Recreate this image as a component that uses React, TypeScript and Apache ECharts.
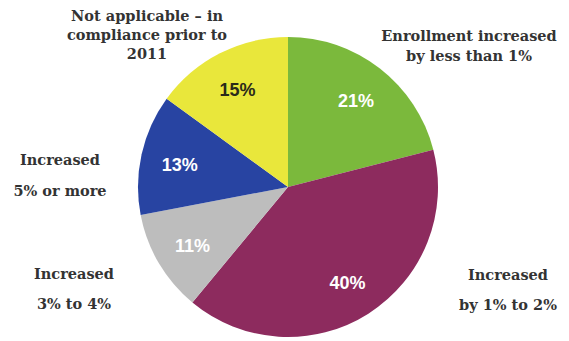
import React, { useEffect, useRef } from "react";
import * as echarts from "echarts";

const categories = [
  "Enrollment increased\nby less than 1%",
  "Increased\nby 1% to 2%",
  "Increased\n3% to 4%",
  "Increased\n5% or more",
  "Not applicable – in\ncompliance prior to\n2011",
];
const values = [21, 40, 11, 13, 15];
const colors = ["#7bb93c", "#8d2b5e", "#bdbdbd", "#2844a2", "#e9e73b"];
const innerLabelColors = ["#ffffff", "#ffffff", "#ffffff", "#ffffff", "#2b2b1a"];
const outerLabelPos = [
  [469, 45],
  [508, 289],
  [74, 288],
  [60, 175],
  [147, 34],
];
const outerLineHeights = [20, 30, 30, 31, 19];

export default function App() {
  const ref = useRef<HTMLDivElement>(null);
  useEffect(() => {
    document.body.style.margin = "0";
    const chart = echarts.init(ref.current!, null, { renderer: "svg" });
    chart.setOption({
      animation: false,
      backgroundColor: "#ffffff",
      series: [
        {
          type: "pie",
          center: [288, 187],
          radius: [0, 150],
          startAngle: 90,
          clockwise: true,
          silent: true,
          avoidLabelOverlap: false,
          data: categories.map((name, i) => ({
            name,
            value: values[i],
            itemStyle: { color: colors[i] },
            label: { lineHeight: outerLineHeights[i] },
          })),
          label: {
            show: true,
            formatter: "{b}",
            fontFamily: "DejaVu Serif",
            fontWeight: "bold",
            fontSize: 14.5,
            color: "#333333",
            align: "center",
            overflow: "none",
            width: 220,
          },
          labelLine: { show: false },
          labelLayout: (params: any) => ({
            x: outerLabelPos[params.dataIndex][0],
            y: outerLabelPos[params.dataIndex][1],
            align: "center",
            verticalAlign: "middle",
          }),
        },
        {
          type: "pie",
          center: [288, 187],
          radius: [66, 150],
          startAngle: 90,
          clockwise: true,
          silent: true,
          itemStyle: { color: "rgba(0,0,0,0)" },
          data: categories.map((name, i) => ({
            name,
            value: values[i],
            label: { color: innerLabelColors[i] },
          })),
          label: {
            show: true,
            position: "inside",
            formatter: "{c}%",
            fontFamily: "Liberation Sans",
            fontWeight: "bold",
            fontSize: 18,
            offset: [0, 2],
          },
          labelLine: { show: false },
        },
      ],
    });
    return () => chart.dispose();
  }, []);
  return <div ref={ref} style={{ width: 569, height: 341 }} />;
}
